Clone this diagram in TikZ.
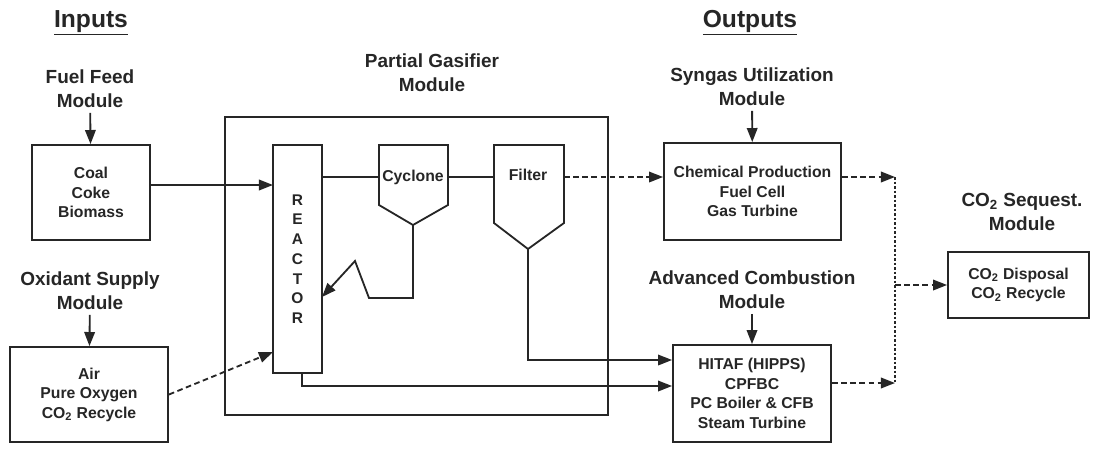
\documentclass[tikz,border=0pt]{standalone}
\usepackage{fontspec}
\setmainfont{Liberation Sans}
\usetikzlibrary{arrows.meta}

\newcommand{\unitfont}{\fontsize{11.2}{13.9}\selectfont\bfseries}
\newcommand{\modfont}{\fontsize{13.5}{17}\selectfont\bfseries}
\newcommand{\headfont}{\fontsize{17.5}{20}\selectfont\bfseries}

\tikzset{
  unit/.style={draw=black!85, line width=1.3pt, align=center, inner sep=2pt, font=\unitfont, text=black!85},
  modlabel/.style={align=center, font=\modfont, text=black!85},
  headline/.style={font=\headfont, text=black!85},
  pipe/.style={draw=black!85, line width=1.3pt},
  flow/.style={pipe, -{Triangle[length=10pt,width=7.5pt]}},
  gasflow/.style={flow, dash pattern=on 4pt off 2.5pt},
}

\begin{document}
\begin{tikzpicture}[x=0.025cm, y=-0.025cm]
  \useasboundingbox (0,0) rectangle (1094,456);
  % headings
  \node[headline] (inputs) at (91,23) {\underline{Inputs}};
  \node[headline] (outputs) at (750,23) {\underline{Outputs}};
  % input modules
  \node[modlabel] (fuelmod) at (90,89) {Fuel Feed\\Module};
  \node[unit, minimum width=2.95cm, minimum height=2.375cm] (coal) at (91,192.5) {Coal\\Coke\\Biomass};
  \node[modlabel] (oxmod) at (90,291) {Oxidant Supply\\Module};
  \node[unit, minimum width=3.95cm, minimum height=2.375cm] (air) at (89,394.5) {Air\\Pure Oxygen\\CO\textsubscript{2} Recycle};
  \draw[flow] (fuelmod) -- (coal);
  \draw[flow] (oxmod) -- (air);
  % partial gasifier module
  \node[modlabel] (gasmod) at (432,73) {Partial Gasifier\\Module};
  \node[unit, minimum width=9.575cm, minimum height=7.45cm] (gasifier) at (416.5,266) {};
  \node[unit, minimum width=1.225cm, minimum height=5.7cm, font=\fontsize{11}{14}\selectfont\bfseries] (reactor) at (297.5,259) {R\\E\\A\\C\\T\\O\\R};
  % cyclone
  \draw[pipe] (379,145) -- (448,145) -- (448,205) -- (413,225) -- (379,205) -- cycle;
  \node[font=\unitfont, text=black!85, inner sep=0pt] (cyclone) at (413,177) {Cyclone};
  \coordinate (cycin) at (379,177);
  \coordinate (cycout) at (448,177);
  \coordinate (cycbot) at (413,225);
  % filter
  \draw[pipe] (494,145) -- (564,145) -- (564,223) -- (528,249) -- (494,223) -- cycle;
  \node[font=\unitfont, text=black!85] (filter) at (528,175) {Filter};
  \coordinate (filin) at (494,177);
  \coordinate (filout) at (564,177);
  \coordinate (filbot) at (528,249);
  % feeds into the reactor
  \coordinate (feedin) at (273,185);
  \coordinate (oxin) at (273,352);
  \coordinate (recyc) at (322,297);
  \coordinate (rbot) at (302,373);
  \draw[flow] (coal.east |- feedin) -- (feedin);
  \draw[gasflow] (air.east) -- (oxin);
  \draw[pipe] (reactor.east |- cycin) -- (cycin);
  \draw[pipe] (cycout) -- (filin);
  \draw[flow] (cycbot) -- (413,298) -- (369,298) -- (355,261) -- (recyc);
  % output modules
  \node[modlabel] (synmod) at (752,87) {Syngas Utilization\\Module};
  \node[unit, minimum width=4.425cm, minimum height=2.425cm] (chem) at (752.5,191.5) {Chemical Production\\Fuel Cell\\Gas Turbine};
  \node[modlabel] (advmod) at (752,290) {Advanced Combustion\\Module};
  \node[unit, minimum width=3.95cm, minimum height=2.425cm] (adv) at (752,393.5) {HITAF (HIPPS)\\CPFBC\\PC Boiler \& CFB\\Steam Turbine};
  \node[modlabel] (seqmod) at (1022,212) {CO\textsubscript{2} Sequest.\\Module};
  \node[unit, minimum width=3.525cm, minimum height=1.65cm] (seq) at (1018.5,285) {CO\textsubscript{2} Disposal\\CO\textsubscript{2} Recycle};
  \draw[flow] (synmod) -- (chem);
  \draw[flow] (advmod) -- (adv);
  % gasifier outlets
  \coordinate (advin1) at (adv.west |- 0,360);
  \coordinate (advin2) at (adv.west |- 0,386);
  \draw[gasflow] (filout) -- (chem.west |- filout);
  \draw[flow] (filbot) |- (advin1);
  \draw[flow] (rbot) |- (advin2);
  % collector to sequestration
  \coordinate (col1) at (895,177);
  \coordinate (col2) at (895,383);
  \draw[gasflow] (chem.east |- col1) -- (col1);
  \draw[gasflow] (adv.east |- col2) -- (col2);
  \draw[pipe, dash pattern=on 2pt off 1.2pt] (col1) -- (col2);
  \draw[gasflow] (col1 |- seq.west) -- (seq.west);
\end{tikzpicture}
\end{document}
